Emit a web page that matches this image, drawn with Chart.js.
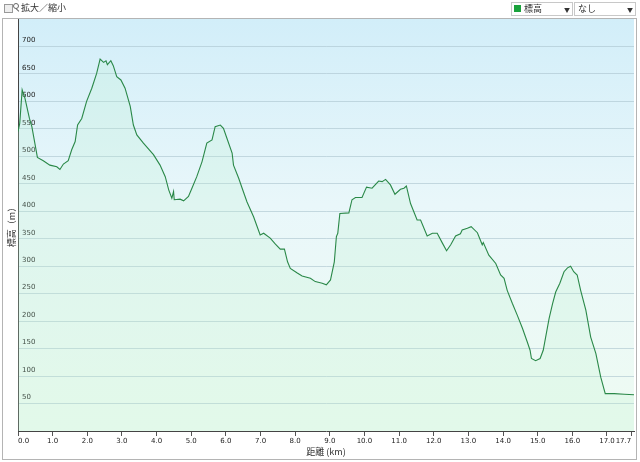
<!DOCTYPE html>
<html>
<head>
<meta charset="utf-8">
<script src="https://cdn.jsdelivr.net/npm/chart.js@4"></script>
<style>
  body { margin: 0; width: 640px; height: 462px; overflow: hidden; background: #fff; font-family: "Noto Sans CJK JP", "DejaVu Sans", sans-serif; }
  #wrap { position: absolute; left: 0; top: 0; width: 640px; height: 462px; }
  #panel { position: absolute; left: 2px; top: 18px; width: 633px; height: 440px; border: 1px solid #b4b4b4; box-sizing: content-box; }
  .tb { position: absolute; font-size: 9px; color: #333; line-height: 12px; }
  .box { position: absolute; border: 1px solid #c8c8c8; background: #fff; height: 12px; }
  .arrow { position: absolute; font-size: 6px; color: #333; top: 2px; }
</style>
</head>
<body>
<div id="wrap">
  <div id="panel"></div>
  <canvas id="myChart" width="640" height="462" style="position:absolute;left:0;top:0"></canvas>
  <!-- toolbar -->
  <div style="position:absolute;left:4px;top:4px;width:7px;height:7px;border:1px solid #999;background:#eee"></div>
  <div style="position:absolute;left:13px;top:3px;width:4px;height:4px;border:1px solid #666;border-radius:50%"></div>
  <div style="position:absolute;left:17px;top:8px;width:1px;height:4px;background:#666;transform:rotate(-45deg)"></div>
  <div class="tb" style="left:21px;top:2px">拡大／縮小</div>
  <div class="box" style="left:511px;top:2px;width:60px">
    <div style="position:absolute;left:2px;top:2px;width:7px;height:7px;background:#1aa23c"></div>
    <div class="tb" style="left:12px;top:0">標高</div>
    <div class="arrow" style="left:52px">&#9660;</div>
  </div>
  <div class="box" style="left:574px;top:2px;width:60px">
    <div class="tb" style="left:3px;top:0">なし</div>
    <div class="arrow" style="left:52px">&#9660;</div>
  </div>
</div>
<script>
// distance (km) and elevation (m)
const distKm = [0, 0.05, 0.12, 0.2, 0.33, 0.4, 0.56, 0.73, 0.92, 1.12, 1.21, 1.31, 1.45, 1.55, 1.65, 1.72, 1.84, 1.98, 2.13, 2.27,
  2.37, 2.47, 2.54, 2.58, 2.68, 2.75, 2.85, 2.97, 3.09, 3.24, 3.33, 3.43, 3.62, 3.91, 4.1, 4.25, 4.35, 4.44, 4.49, 4.51,
  4.68, 4.78, 4.92, 5.02, 5.16, 5.31, 5.45, 5.6, 5.69, 5.84, 5.93, 6.03, 6.18, 6.22, 6.37, 6.47, 6.61, 6.8, 6.99, 7.09,
  7.28, 7.43, 7.57, 7.69, 7.78, 7.86, 8.05, 8.2, 8.44, 8.58, 8.78, 8.9, 9.02, 9.13, 9.19, 9.23, 9.29, 9.55, 9.64, 9.74,
  9.93, 10.06, 10.22, 10.41, 10.51, 10.61, 10.75, 10.88, 11.04, 11.14, 11.21, 11.33, 11.52, 11.62, 11.81, 11.96, 12.1, 12.25, 12.37, 12.49,
  12.63, 12.77, 12.82, 12.97, 13.08, 13.26, 13.4, 13.43, 13.59, 13.79, 13.93, 14.03, 14.12, 14.27, 14.41, 14.56, 14.7, 14.78, 14.82, 14.94,
  15.07, 15.16, 15.23, 15.33, 15.43, 15.52, 15.64, 15.76, 15.86, 15.95, 16.04, 16.14, 16.24, 16.39, 16.53, 16.68, 16.82, 16.95, 17.21, 17.5, 17.78];
const elevM = [545, 560, 621, 606, 569, 554, 498, 492, 484, 481, 476, 486, 492, 512, 527, 557, 569, 600, 624, 651,
  677, 671, 674, 667, 674, 665, 645, 639, 624, 591, 557, 539, 524, 503, 484, 463, 439, 424, 436, 421,
  422, 419, 427, 442, 463, 490, 524, 530, 554, 557, 551, 533, 506, 484, 460, 442, 417, 390, 357, 360,
  351, 340, 331, 331, 308, 296, 288, 282, 278, 272, 269, 266, 275, 308, 354, 360, 396, 397, 421, 425,
  425, 444, 442, 455, 454, 458, 448, 431, 440, 442, 446, 414, 384, 384, 355, 360, 360, 342, 328, 339,
  355, 359, 366, 369, 372, 361, 339, 343, 320, 305, 284, 278, 256, 232, 211, 187, 162, 147, 132, 128,
  132, 147, 171, 205, 232, 253, 269, 290, 297, 300, 290, 284, 256, 220, 171, 141, 98, 68, 68, 67, 66];
const xTicks = [0, 1, 2, 3, 4, 5, 6, 7, 8, 9, 10, 11, 12, 13, 14, 15, 16, 17, 17.7];
const yMax = 750;
const xMax = 17.78;

const bgPlugin = {
  id: 'bg',
  beforeDraw(chart) {
    const a = chart.chartArea, c = chart.ctx;
    const g = c.createLinearGradient(0, a.top, 0, a.bottom);
    g.addColorStop(0, '#d2eef9');
    g.addColorStop(0.45, '#e9f7fa');
    g.addColorStop(1, '#eefbf2');
    c.save();
    c.fillStyle = g;
    c.fillRect(a.left, a.top, a.right - a.left, a.bottom - a.top);
    c.restore();
  }
};

const ctx = document.getElementById('myChart');
new Chart(ctx, {
  type: 'line',
  data: {
    datasets: [{
      label: '標高',
      data: distKm.map((d, i) => ({ x: d, y: elevM[i] })),
      borderColor: '#2a8848',
      borderWidth: 1.1,
      backgroundColor: 'rgba(185,243,205,0.22)',
      fill: 'origin',
      pointRadius: 0,
      tension: 0
    }]
  },
  options: {
    responsive: false,
    animation: false,
    layout: { padding: { top: 19, right: 6, left: 0, bottom: 0 } },
    plugins: { legend: { display: false }, tooltip: { enabled: false } },
    scales: {
      x: {
        type: 'linear',
        min: 0,
        max: xMax,
        afterBuildTicks: (s) => { s.ticks = xTicks.map(v => ({ value: v })); },
        afterFit: (s) => { s.height = 31; },
        ticks: {
          font: { family: 'DejaVu Sans', size: 7 },
          color: '#222',
          padding: 1,
          align: 'inner',
          maxRotation: 0,
          autoSkip: false,
          callback: (v) => Number(v).toFixed(1)
        },
        grid: { drawOnChartArea: false, tickLength: 5, color: '#555' },
        border: { color: '#444' },
        title: {
          display: true,
          text: '距離 (km)',
          font: { family: 'Noto Sans CJK JP', size: 9 },
          color: '#333',
          padding: { top: 0, bottom: 5 }
        }
      },
      y: {
        min: 0,
        max: yMax,
        z: 1,
        afterFit: (s) => { s.width = 18; },
        ticks: {
          stepSize: 50,
          mirror: true,
          padding: 4,
          labelOffset: -6,
          font: { family: 'DejaVu Sans', size: 7 },
          color: '#222',
          callback: (v) => (v === 0 || v === yMax) ? '' : v
        },
        grid: {
          drawTicks: false,
          color: (c) => (c.tick && (c.tick.value === 0 || c.tick.value === yMax)) ? 'rgba(0,0,0,0)' : 'rgba(170,195,205,0.6)'
        },
        border: { color: '#444' },
        title: {
          display: true,
          text: '標高（m）',
          font: { family: 'Noto Sans CJK JP', size: 9 },
          color: '#333',
          padding: { top: 6, bottom: 0 }
        }
      }
    }
  },
  plugins: [bgPlugin]
});
</script>
</body>
</html>
